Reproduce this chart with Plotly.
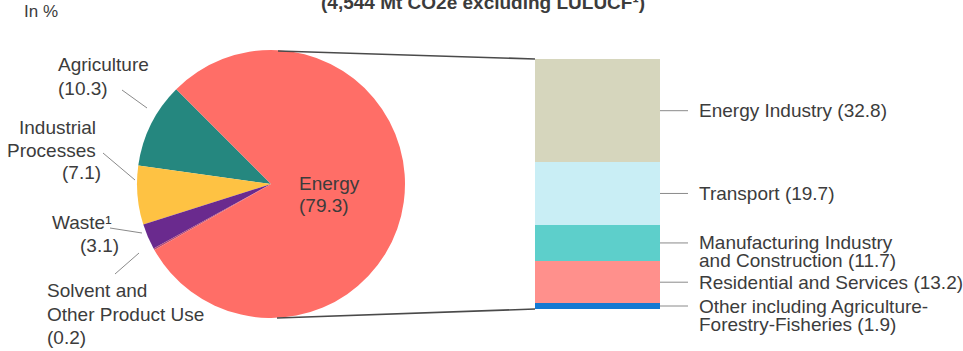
import plotly.graph_objects as go

W, H = 963, 351

# Share of total emissions by sector (%)
sectors = ["Agriculture", "Industrial Processes", "Waste", "Solvent and Other Product Use", "Energy"]
sector_values = [10.3, 7.1, 3.1, 0.2, 79.3]
sector_colors = ["#25877F", "#FEC243", "#6A2A8E", "#B04C7A", "#FF6E67"]

# Breakdown of the energy sector, stacked bottom to top (%)
energy_parts = [
    "Other including Agriculture-Forestry-Fisheries",
    "Residential and Services",
    "Manufacturing Industry and Construction",
    "Transport",
    "Energy Industry",
]
energy_values = [1.9, 13.2, 11.7, 19.7, 32.8]
energy_colors = ["#1479D2", "#FF908C", "#5DCFCB", "#C9EEF5", "#D6D6BD"]

# Text lines for each energy sub-sector label ({v} is the value)
energy_label_lines = [
    ["Other including Agriculture-", "Forestry-Fisheries ({v})"],
    ["Residential and Services ({v})"],
    ["Manufacturing Industry", "and Construction ({v})"],
    ["Transport ({v})"],
    ["Energy Industry ({v})"],
]

TEXT = "#3c3c3c"
FONT = "Liberation Sans, Arial, sans-serif"
FS = 19


def px(x):
    return x / W


def py(y):
    return 1 - y / H


# Pie geometry in pixels
pie_cx, pie_cy, pie_r = 271, 184, 134
# Stacked bar geometry in pixels
bar_x0, bar_x1, bar_top, bar_bot = 535, 660, 59, 309

# Agriculture's upper edge sits 45 degrees left of 12 o'clock; slices run counterclockwise
total = sum(sector_values)
pie_rotation = -(45 + 360 * sector_values[0] / total)

fig = go.Figure()

fig.add_trace(go.Pie(
    labels=sectors,
    values=sector_values,
    marker=dict(colors=sector_colors, line=dict(width=0)),
    sort=False,
    direction="counterclockwise",
    rotation=pie_rotation,
    textinfo="none",
    hoverinfo="label+value",
    showlegend=False,
    domain=dict(x=[px(pie_cx - pie_r), px(pie_cx + pie_r)],
                y=[py(pie_cy + pie_r), py(pie_cy - pie_r)]),
))

for name, val, col in zip(energy_parts, energy_values, energy_colors):
    fig.add_trace(go.Bar(
        x=["Energy"], y=[val], name=name,
        marker=dict(color=col, line=dict(width=0)),
        showlegend=False, hoverinfo="name+y",
    ))

energy_total = sum(energy_values)

annotations = []
shapes = []


def text(x, y, s, anchor="left", size=FS, bold=False, color=TEXT, xref="paper", yref="paper", yshift=0):
    annotations.append(dict(
        x=x, y=y, xref=xref, yref=yref, text=f"<b>{s}</b>" if bold else s,
        showarrow=False, xanchor=anchor, yanchor="middle", yshift=yshift,
        font=dict(family=FONT, size=size, color=color),
    ))


# Header texts
text(px(483), py(2), "(4,544 Mt CO2e excluding LULUCF¹)", anchor="center", bold=True)
text(px(22), py(12), "In %", size=17)

# Label inside the energy slice
text(px(297), py(183), "Energy", anchor="left")
text(px(297), py(206), f"({sector_values[4]})", anchor="left")

# Labels for the smaller slices: (x, y_center, anchor, line)
left_labels = [
    (56, 65, "left", "Agriculture"),
    (56, 88, "left", f"({sector_values[0]})"),
    (98, 127, "right", "Industrial"),
    (98, 150, "right", "Processes"),
    (103, 173, "right", f"({sector_values[1]})"),
    (50, 222, "left", "Waste¹"),
    (78, 246, "left", f"({sector_values[2]})"),
    (45, 290, "left", "Solvent and"),
    (45, 314, "left", "Other Product Use"),
    (45, 337, "left", f"({sector_values[3]})"),
]
for x, y, a, s in left_labels:
    text(px(x), py(y), s, anchor=a)

# Leader lines from slice labels to the pie
left_leaders = [
    ((122, 90), (147, 108)),
    ((103, 153), (135, 180)),
    ((110, 228), (142, 233)),
    ((115, 274), (139, 253)),
]
for (x0, y0), (x1, y1) in left_leaders:
    shapes.append(dict(type="line", xref="paper", yref="paper",
                       x0=px(x0), y0=py(y0), x1=px(x1), y1=py(y1),
                       line=dict(color="#8a8a8a", width=1)))

# Leader lines and labels for the energy breakdown, centred on each segment
base = 0.0
for val, lines in zip(energy_values, energy_label_lines):
    mid = base + val / 2
    base += val
    shapes.append(dict(type="line", xref="paper", yref="y",
                       x0=px(bar_x1), x1=px(688), y0=mid, y1=mid,
                       line=dict(color="#8a8a8a", width=1)))
    for i, ln in enumerate(lines):
        text(px(697), mid, ln.format(v=val), anchor="left", yref="y", yshift=-18 * i)

# Connectors from the energy slice to the breakdown bar
shapes.append(dict(type="line", xref="paper", yref="paper",
                   x0=px(278), y0=py(51), x1=px(bar_x0), y1=py(bar_top),
                   line=dict(color="#4a4a4a", width=1.6)))
shapes.append(dict(type="line", xref="paper", yref="paper",
                   x0=px(277), y0=py(318), x1=px(bar_x0), y1=py(bar_bot),
                   line=dict(color="#4a4a4a", width=1.6)))

fig.update_layout(
    width=W, height=H,
    margin=dict(l=0, r=0, t=0, b=0, pad=0),
    paper_bgcolor="white", plot_bgcolor="rgba(0,0,0,0)",
    barmode="stack", bargap=0,
    xaxis=dict(domain=[px(bar_x0), px(bar_x1)], range=[-0.5, 0.5], visible=False, fixedrange=True),
    yaxis=dict(domain=[py(bar_bot), py(bar_top)], range=[0, energy_total], visible=False, fixedrange=True),
    annotations=annotations,
    shapes=shapes,
)

fig.write_html("out.html")
